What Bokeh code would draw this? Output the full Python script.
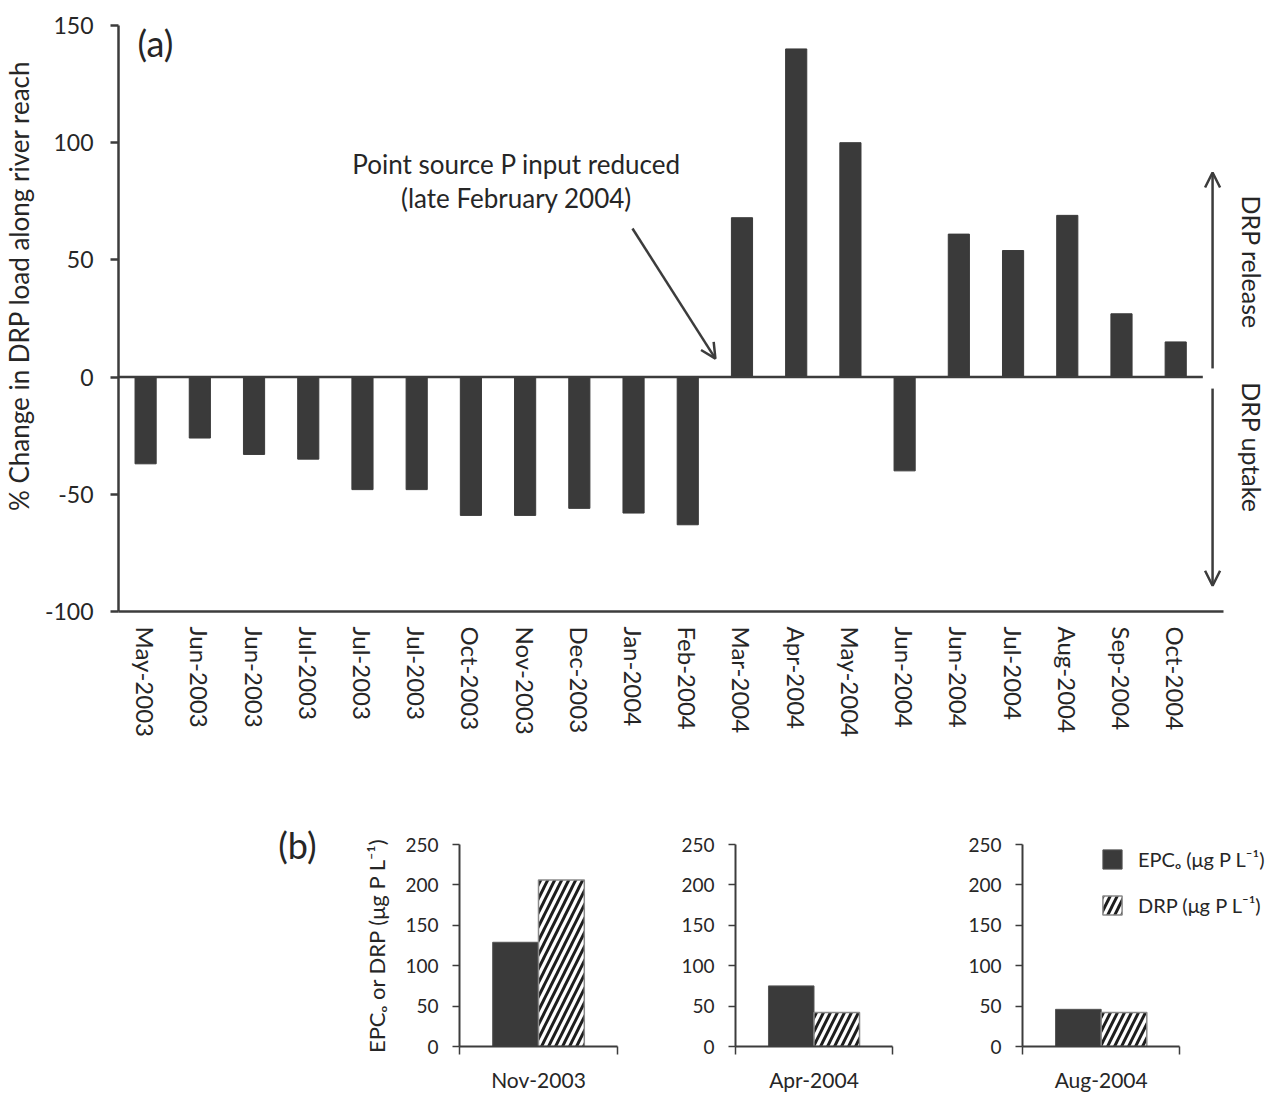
import math
from bokeh.plotting import figure
from bokeh.models import (Range1d, FixedTicker, Label, Arrow, OpenHead, Legend, LegendItem,
                          LinearAxis)
from bokeh.layouts import column, row
from bokeh.embed import file_html
from bokeh.resources import INLINE

# ---------------- data ----------------
months = ["May-2003", "Jun-2003", "Jun-2003", "Jul-2003", "Jul-2003", "Jul-2003",
          "Oct-2003", "Nov-2003", "Dec-2003", "Jan-2004", "Feb-2004", "Mar-2004",
          "Apr-2004", "May-2004", "Jun-2004", "Jun-2004", "Jul-2004", "Aug-2004",
          "Sep-2004", "Oct-2004"]
pct_change = [-37, -26, -33, -35, -48, -48, -59, -59, -56, -58, -63,
              68, 140, 100, -40, 61, 54, 69, 27, 15]
y_ticks_a = [-100, -50, 0, 50, 100, 150]

b_dates = ["Nov-2003", "Apr-2004", "Aug-2004"]
epc = [129, 75, 46]
drp = [206, 42, 42]
y_ticks_b = [0, 50, 100, 150, 200, 250]

# ---------------- style ----------------
FONT = "Lato"
TXT = "#262626"
AX = "#3c3c3c"
BAR = "#3a3a3a"

n = len(months)
xs = [i + 0.5 for i in range(n)]

# ---------------- panel a ----------------
pa = figure(width=1269, height=790, x_range=Range1d(0, n + 1.23), y_range=Range1d(-100, 150),
            output_backend="svg", toolbar_location=None,
            min_border_left=118, min_border_right=0, min_border_top=25, min_border_bottom=179)
pa.xgrid.visible = False
pa.ygrid.visible = False
pa.outline_line_color = None

pa.vbar(x=xs, top=pct_change, bottom=0, width=0.39, fill_color=BAR, line_color=BAR)
pa.segment(x0=[0], y0=[0], x1=[n], y1=[0], line_color=AX, line_width=2.5)

xa = pa.xaxis[0]
xa.bounds = (0, n + 0.38)
xa.ticker = FixedTicker(ticks=xs)
xa.major_label_overrides = {x: m for x, m in zip(xs, months)}
xa.major_label_orientation = -math.pi / 2
xa.major_tick_line_color = None
xa.minor_tick_line_color = None
xa.axis_line_color = AX
xa.axis_line_width = 2.5
xa.major_label_text_font = FONT
xa.major_label_text_font_size = "24px"
xa.major_label_text_color = TXT
xa.major_label_standoff = 9

ya = pa.yaxis[0]
ya.ticker = FixedTicker(ticks=y_ticks_a)
ya.major_label_overrides = {t: str(t) for t in y_ticks_a}
ya.major_tick_out = 8
ya.major_tick_in = 0
ya.major_tick_line_color = AX
ya.major_tick_line_width = 2.5
ya.minor_tick_line_color = None
ya.axis_line_color = AX
ya.axis_line_width = 2.5
ya.major_label_text_font = FONT
ya.major_label_text_font_size = "23px"
ya.major_label_text_color = TXT
ya.major_label_standoff = 17

# outer left axis carrying the y title (positioned to match the reference)
ytitle_pos = 39.0
ytitle_axis = LinearAxis(ticker=FixedTicker(ticks=[ytitle_pos]),
                         major_label_overrides={ytitle_pos: "% Change in DRP load along river reach"},
                         major_label_orientation="parallel", axis_line_color=None,
                         major_tick_line_color=None, minor_tick_line_color=None,
                         major_label_standoff=0, major_label_text_font=FONT,
                         major_label_text_font_size="26px", major_label_text_color=TXT)
pa.add_layout(ytitle_axis, "left")

pa.add_layout(Label(x=0.35, y=142.7, text="(a)", text_align="left", text_baseline="middle",
                    text_font=FONT, text_font_size="36px", text_color=TXT))
pa.add_layout(Label(x=7.34, y=91.1, text="Point source P input reduced", text_align="center",
                    text_baseline="middle", text_font=FONT, text_font_size="26px", text_color=TXT))
pa.add_layout(Label(x=7.34, y=76.6, text="(late February 2004)", text_align="center",
                    text_baseline="middle", text_font=FONT, text_font_size="26px", text_color=TXT))
pa.add_layout(Arrow(end=OpenHead(size=15, line_color=AX, line_width=2.5),
                    x_start=9.48, y_start=63.4, x_end=11.01, y_end=7.9,
                    line_color=AX, line_width=2.5))
pa.add_layout(Arrow(end=OpenHead(size=15, line_color=AX, line_width=2.5),
                    x_start=20.18, y_start=3.7, x_end=20.18, y_end=87.3,
                    line_color=AX, line_width=2.5))
pa.add_layout(Arrow(end=OpenHead(size=15, line_color=AX, line_width=2.5),
                    x_start=20.18, y_start=-4.9, x_end=20.18, y_end=-89.0,
                    line_color=AX, line_width=2.5))
pa.add_layout(Label(x=20.90, y=49.0, text="DRP release", angle=-math.pi / 2, text_align="center",
                    text_baseline="middle", text_font=FONT, text_font_size="25px", text_color=TXT))
pa.add_layout(Label(x=20.90, y=-30.0, text="DRP uptake", angle=-math.pi / 2, text_align="center",
                    text_baseline="middle", text_font=FONT, text_font_size="25px", text_color=TXT))

# ---------------- panel b ----------------
BW = 0.29
# (figure width, left border, right border, x-range end)
b_specs = [(678, 459, 61, 1.0), (287, 56, 73, 1.0), (304, 56, 0, 248 / 158)]
b_figs = []
for i, (w, lb, rb, xend) in enumerate(b_specs):
    p = figure(width=w, height=304, x_range=Range1d(0, xend), y_range=Range1d(0, 250),
               output_backend="svg", toolbar_location=None,
               min_border_left=lb, min_border_right=rb, min_border_top=54, min_border_bottom=45)
    p.xgrid.visible = False
    p.ygrid.visible = False
    p.outline_line_color = None
    r1 = p.vbar(x=[0.5 - BW / 2], top=[epc[i]], width=BW, fill_color=BAR, line_color="#555555",
                line_width=1)
    r2 = p.vbar(x=[0.5 + BW / 2], top=[drp[i]], width=BW, fill_color="white", line_color="#8a8a8a",
                line_width=1.5, hatch_pattern="/", hatch_color="#1e1e1e", hatch_weight=3,
                hatch_scale=14)
    xa = p.xaxis[0]
    xa.bounds = (0, 1)
    xa.ticker = FixedTicker(ticks=[0.5], minor_ticks=[0, 1])
    xa.major_label_overrides = {0.5: b_dates[i]}
    xa.major_tick_line_color = None
    xa.minor_tick_out = 8
    xa.minor_tick_in = 0
    xa.minor_tick_line_color = AX
    xa.minor_tick_line_width = 1.5
    xa.axis_line_color = AX
    xa.axis_line_width = 2
    xa.major_label_text_font = FONT
    xa.major_label_text_font_size = "21px"
    xa.major_label_text_color = TXT
    xa.major_label_standoff = 12
    ya = p.yaxis[0]
    ya.ticker = FixedTicker(ticks=y_ticks_b)
    ya.major_tick_out = 7
    ya.major_tick_in = 0
    ya.major_tick_line_color = AX
    ya.major_tick_line_width = 1.5
    ya.minor_tick_line_color = None
    ya.axis_line_color = AX
    ya.axis_line_width = 2
    ya.major_label_text_font = FONT
    ya.major_label_text_font_size = "19px"
    ya.major_label_text_color = TXT
    ya.major_label_standoff = 14
    if i == 0:
        ya.axis_label = "EPCₒ or DRP (μg P L⁻¹)"
        ya.axis_label_text_font = FONT
        ya.axis_label_text_font_size = "22px"
        ya.axis_label_text_font_style = "normal"
        ya.axis_label_text_color = TXT
        ya.axis_label_standoff = 12
        tag_axis = LinearAxis(ticker=FixedTicker(ticks=[250]), major_label_overrides={250: "(b)"},
                              major_label_orientation="horizontal", axis_line_color=None,
                              major_tick_line_color=None, minor_tick_line_color=None,
                              major_label_standoff=38, major_label_text_font=FONT,
                              major_label_text_font_size="36px", major_label_text_color=TXT)
        p.add_layout(tag_axis, "left")
    if i == 2:
        leg = Legend(items=[LegendItem(label="EPCₒ (μg P L⁻¹)", renderers=[r1]),
                            LegendItem(label="DRP (μg P L⁻¹)", renderers=[r2])],
                     location=(78, 129), glyph_width=24, glyph_height=24, spacing=22,
                     padding=0, margin=0, label_standoff=14, border_line_color=None,
                     background_fill_alpha=0, label_text_font=FONT,
                     label_text_font_size="20px", label_text_color=TXT)
        p.add_layout(leg)
    b_figs.append(p)

layout = column(pa, row(*b_figs))
open("out.html", "w").write(file_html(layout, INLINE))
